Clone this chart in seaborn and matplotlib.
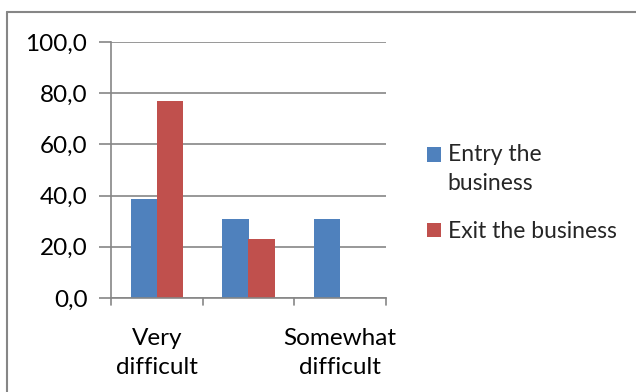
import matplotlib
matplotlib.use("Agg")
import matplotlib.pyplot as plt
from matplotlib.lines import Line2D
from matplotlib.patches import Patch, Rectangle
from matplotlib.legend_handler import HandlerPatch
import pandas as pd
import seaborn as sns

# Survey answers: how difficult it is to enter / exit the business (%)
categories = ["Very difficult", "Difficult", "Somewhat difficult"]
tick_labels = ["Very\ndifficult", "", "Somewhat\ndifficult"]
series = ["Entry the business", "Exit the business"]
legend_labels = ["Entry the\nbusiness", "Exit the business"]
entry_values = [38.5, 30.8, 30.8]
exit_values = [76.9, 23.1, 0.0]
y_ticks = [0, 20, 40, 60, 80, 100]

colors = ["#4F81BD", "#C0504D"]
grid_color = "#868686"
FS_TICK = 17.5
FS_LEG = 16.5

df = pd.DataFrame({
    "category": categories * 2,
    "series": [series[0]] * 3 + [series[1]] * 3,
    "value": entry_values + exit_values,
})

sns.set_theme(style="white")
plt.rcParams["font.family"] = ["Lato", "DejaVu Sans"]

W, H = 636, 392
fig = plt.figure(figsize=(W / 100, H / 100), dpi=100)
ax = fig.add_axes([111 / W, 1 - 298 / H, (386 - 111) / W, (298 - 42) / H])

sns.barplot(data=df, x="category", y="value", hue="series", order=categories,
            hue_order=series, palette=colors, width=0.57, saturation=1,
            linewidth=0, legend=False, ax=ax)

ax.set_xlim(-0.5, 2.5)
ax.set_ylim(0, 100)
ax.set_yticks(y_ticks)
ax.set_yticklabels([f"{v:.1f}".replace(".", ",") for v in y_ticks],
                   fontsize=FS_TICK, color="black")
ax.yaxis.grid(True, color=grid_color, linewidth=1.2)
ax.set_axisbelow(True)

# category labels centred under groups, tick marks at group boundaries
ax.set_xticks([0, 1, 2])
ax.set_xticklabels(tick_labels, fontsize=FS_TICK, color="black", linespacing=1.45)
ax.tick_params(axis="x", length=0, pad=21.5)
for b in [-0.5, 0.5, 1.5, 2.5]:
    ax.add_line(Line2D([b, b], [0, -0.027], transform=ax.get_xaxis_transform(),
                       color=grid_color, linewidth=1.2, clip_on=False))
ax.tick_params(axis="y", length=9, width=1.2, color=grid_color, left=True, pad=8)

for side in ["top", "right"]:
    ax.spines[side].set_visible(False)
for side in ["left", "bottom"]:
    ax.spines[side].set_color(grid_color)
    ax.spines[side].set_linewidth(1.2)
ax.set_xlabel("")
ax.set_ylabel("")


class FirstLineHandler(HandlerPatch):
    """Square legend key aligned with the first line of a wrapped label."""

    def __init__(self, n_lines, **kw):
        super().__init__(**kw)
        self.n_lines = n_lines

    def create_artists(self, legend, orig_handle, xdescent, ydescent, width,
                       height, fontsize, trans):
        shift = 0.5 * (self.n_lines - 1) * fontsize * 1.31
        p = Rectangle((-xdescent, -ydescent + shift), width, height,
                      facecolor=orig_handle.get_facecolor(), edgecolor="none",
                      transform=trans)
        return [p]


handles = [Patch(facecolor=c, edgecolor="none") for c in colors]
handler_map = {h: FirstLineHandler(lbl.count("\n") + 1)
               for h, lbl in zip(handles, legend_labels)}
leg = fig.legend(handles, legend_labels, loc="upper left",
                 bbox_to_anchor=(427 / W, 1 - 144 / H), frameon=False,
                 fontsize=FS_LEG, handlelength=0.6, handleheight=0.6,
                 handletextpad=0.3, labelspacing=1.2, borderpad=0,
                 borderaxespad=0, handler_map=handler_map)
for t in leg.get_texts():
    t.set_linespacing(1.45)

# chart-area border (top and left edges)
fig.add_artist(Line2D([7 / W, 1], [1 - 12 / H, 1 - 12 / H],
                      transform=fig.transFigure, color=grid_color, linewidth=1.5))
fig.add_artist(Line2D([7 / W, 7 / W], [0, 1 - 12 / H],
                      transform=fig.transFigure, color=grid_color, linewidth=1.5))

fig.savefig("out.png", dpi=100)
